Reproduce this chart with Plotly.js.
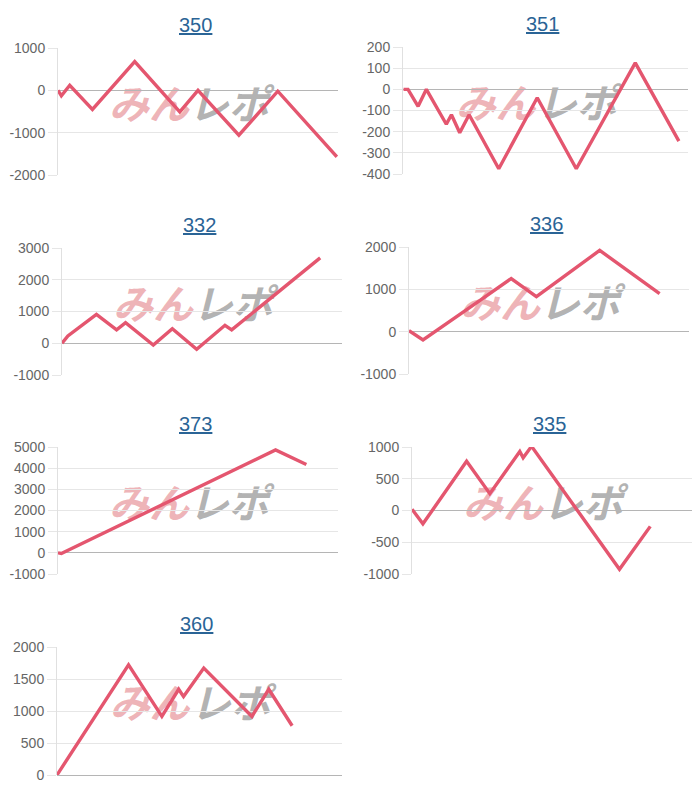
<!DOCTYPE html>
<html>
<head>
<meta charset="utf-8">
<script src="https://cdn.plot.ly/plotly-3.0.1.min.js"></script>
<style>html,body{margin:0;padding:0;background:#fff;}#chart{width:700px;height:800px;}</style>
</head>
<body>
<div id="chart"></div>
<script>
// ---- data (x = progress through the session, 0-100; y = cumulative difference) ----
const titles = ["350", "351", "332", "336", "373", "335", "360"];

const x350 = [0, 1.2, 4.2, 12.3, 27.4, 43.5, 50, 64.6, 78.5, 99.6];
const y350 = [0, -130, 120, -450, 680, -510, 0, -1060, -20, -1570];

const x351 = [0.2, 1.75, 5.3, 8.2, 15.2, 17.0, 19.9, 23.2, 33.6, 47.1, 60.8, 81.5, 96.8];
const y351 = [0, 0, -80, 0, -165, -120, -205, -120, -375, -40, -375, 125, -245];

const x332 = [0, 2.1, 12.3, 19.5, 22.7, 32.6, 39.4, 48.1, 58.2, 60.6, 92.2];
const y332 = [0, 230, 910, 420, 650, -60, 460, -190, 565, 420, 2690];

const x336 = [0, 5.0, 24.6, 36.5, 45.5, 68.1, 89.5];
const y336 = [25, -195, 705, 1255, 825, 1920, 900];

const x373 = [0, 1.2, 77.7, 88.7];
const y373 = [0, -30, 4860, 4170];

const x335 = [0, 3.9, 19.5, 27.8, 38.5, 39.7, 42.7, 74.1, 85.1];
const y335 = [20, -210, 775, 265, 930, 830, 1010, -925, -250];

const x360 = [0, 25.1, 36.8, 42.7, 44.4, 51.5, 68.4, 74.3, 82.5];
const y360 = [0, 1720, 915, 1340, 1225, 1670, 915, 1340, 770];

// y tick values per chart (labels are drawn with a plain hyphen minus)
const ticks350 = [-2000, -1000, 0, 1000];
const ticks351 = [-400, -300, -200, -100, 0, 100, 200];
const ticks332 = [-1000, 0, 1000, 2000, 3000];
const ticks336 = [-1000, 0, 1000, 2000];
const ticks373 = [-1000, 0, 1000, 2000, 3000, 4000, 5000];
const ticks335 = [-1000, -500, 0, 500, 1000];
const ticks360 = [0, 500, 1000, 1500, 2000];

const xSeries = [x350, x351, x332, x336, x373, x335, x360];
const ySeries = [y350, y351, y332, y336, y373, y335, y360];
const yTicks = [ticks350, ticks351, ticks332, ticks336, ticks373, ticks335, ticks360];

// ---- layout geometry (pixels within the 700x800 page) ----
const boxes = [
  [58, 338, 48, 175],
  [403, 688, 47, 174],
  [62, 342, 248, 375],
  [409, 689, 247, 374],
  [58, 338, 447, 574],
  [412, 692, 447, 574],
  [57, 342, 647, 775]
];
const W = 700, H = 800;

const traces = [];
const layout = {
  width: W, height: H,
  margin: {l: 0, r: 0, t: 0, b: 0},
  paper_bgcolor: '#ffffff',
  plot_bgcolor: 'rgba(0,0,0,0)',
  showlegend: false,
  font: {family: '"Liberation Sans", Arial, sans-serif', color: '#666666', size: 14},
  annotations: [],
  shapes: []
};

const lineColor = '#e4566f';

for (let i = 0; i < titles.length; i++) {
  const n = i === 0 ? '' : String(i + 1);
  const xa = 'x' + n, ya = 'y' + n;
  traces.push({
    type: 'scatter', mode: 'lines',
    x: xSeries[i], y: ySeries[i],
    xaxis: xa, yaxis: ya,
    line: {color: lineColor, width: 3.4},
    hoverinfo: 'skip'
  });
  const b = boxes[i];
  const xd = [b[0] / W, b[1] / W];
  const yd = [1 - b[3] / H, 1 - b[2] / H];
  const tv = yTicks[i];
  layout['xaxis' + n] = {
    domain: xd, anchor: ya, range: [0, 100],
    showgrid: false, zeroline: false, showticklabels: false, ticks: '',
    showline: false, fixedrange: true
  };
  layout['yaxis' + n] = {
    domain: yd, anchor: xa, range: [tv[0], tv[tv.length - 1]],
    tickmode: 'array', tickvals: tv, ticktext: tv.map(v => String(v)),
    showgrid: true, gridcolor: '#e6e6e6', gridwidth: 1,
    zeroline: true, zerolinecolor: '#b5b5b5', zerolinewidth: 1,
    showline: true, linecolor: '#e0e0e0', linewidth: 1,
    ticks: 'outside', ticklen: 9, tickcolor: '#e6e6e6', tickwidth: 1,
    tickfont: {size: 14, color: '#666666', family: '"Liberation Sans", Arial, sans-serif'},
    fixedrange: true
  };
  // title
  layout.annotations.push({
    text: '<u>' + titles[i] + '</u>',
    xref: 'paper', yref: 'paper',
    x: (b[0] + b[1]) / 2 / W - 0.004, y: 1 - (b[2] - 23) / H,
    xanchor: 'center', yanchor: 'middle', showarrow: false,
    font: {size: 20, color: '#2a6496', family: '"Liberation Sans", Arial, sans-serif'}
  });
  // watermark (drawn below the line)
  const wm = [['<b>みん</b>', 'rgba(234,160,165,0.8)', 0.18, 0.47], ['<b>レポ</b>', 'rgba(165,165,165,0.85)', 0.46, 0.76]];
  wm.forEach(w => {
    layout.shapes.push({
      type: 'rect', layer: 'below',
      xref: xa + ' domain', yref: ya + ' domain',
      x0: w[2], x1: w[3], y0: 0.38, y1: 0.68,
      line: {width: 0}, fillcolor: 'rgba(0,0,0,0)',
      label: {
        text: w[0], textposition: 'middle center',
        font: {family: '"Noto Sans CJK JP", sans-serif', size: 40, color: w[1], weight: 'bold', style: 'italic'}
      }
    });
  });
}

Plotly.newPlot('chart', traces, layout, {displayModeBar: false, staticPlot: true});
</script>
</body>
</html>
